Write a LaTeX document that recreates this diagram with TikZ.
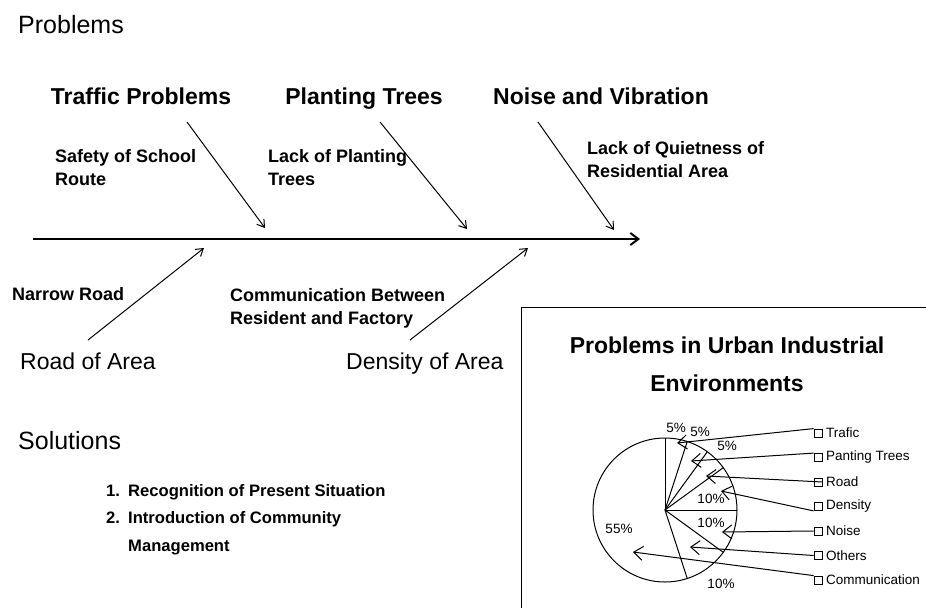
\documentclass[tikz,border=0pt]{standalone}
\usepackage{fontspec}
\setmainfont{Liberation Sans}
\usetikzlibrary{arrows.meta}

\begin{document}
\begin{tikzpicture}[x=1pt,y=-1pt,
  head/.style={font=\fontsize{25}{30}\selectfont, anchor=base west, inner sep=0pt},
  cause/.style={font=\fontsize{23}{27}\selectfont\bfseries, anchor=base, inner sep=0pt},
  area/.style={font=\fontsize{23}{27}\selectfont, anchor=base west, inner sep=0pt},
  sub/.style={font=\fontsize{18}{23}\selectfont\bfseries, align=left, anchor=west, inner sep=0pt},
  item/.style={font=\fontsize{16.6}{27.5}\selectfont\bfseries, align=left, anchor=base west, inner sep=0pt},
  bone/.style={line width=1pt, -{Straight Barb[length=7pt,width=9pt]}},
  pct/.style={font=\fontsize{13.5}{16}\selectfont, inner sep=0pt},
  legtxt/.style={font=\fontsize{13.5}{16}\selectfont, anchor=west, inner sep=0pt},
  legbox/.style={draw, line width=0.8pt, minimum size=8pt, inner sep=0pt},
  leg/.style={line width=1pt, -{Straight Barb[length=9pt,width=14pt]}}]
  \useasboundingbox (0,0) rectangle (926,608);

  % fishbone
  \node[head] (prob) at (18,33) {Problems};
  \node[cause] (traf) at (141,104) {Traffic Problems};
  \node[cause] (tree) at (364,104) {Planting Trees};
  \node[cause] (nois) at (601,104) {Noise and Vibration};
  \node[sub] (safe) at (55,168) {Safety of School\\Route};
  \node[sub] (lack) at (268,168) {Lack of Planting\\Trees};
  \node[sub] (quie) at (587,160) {Lack of Quietness of\\Residential Area};
  \node[sub] (narr) at (12,294) {Narrow Road};
  \node[sub] (comm) at (230,308) {Communication Between\\Resident and Factory};
  \node[area] (road) at (20,369) {Road of Area};
  \node[area] (dens) at (346,369) {Density of Area};

  \coordinate (tail) at (33,239);
  \coordinate (head) at (640,239);
  \draw[line width=2pt, -{Straight Barb[length=8pt,width=12pt]}] (tail) -- (head);
  \coordinate (a1) at (187,122); \coordinate (b1) at (265,228);
  \coordinate (a2) at (380,122); \coordinate (b2) at (467,229);
  \coordinate (a3) at (538,122); \coordinate (b3) at (614,230);
  \coordinate (a4) at (88,340);  \coordinate (b4) at (204,248);
  \coordinate (a5) at (410,340); \coordinate (b5) at (528,248);
  \foreach \k in {1,...,5}
    \draw[bone] (a\k) -- (b\k);

  % solutions
  \node[head] (solu) at (18,449) {Solutions};
  \node[item] (n1) at (106,496) {1.};
  \node[item] (s1) at (128,496) {Recognition of Present Situation};
  \node[item] (n2) at (106,523.5) {2.};
  \node[item] (s2) at (128,551) {Introduction of Community\\Management};

  % chart panel
  \draw[line width=1pt] (521,608) -- (521,307) -- (926,307);
  \node[cause] (ttl1) at (727,353) {Problems in Urban Industrial};
  \node[cause] (ttl2) at (727,391) {Environments};

  \coordinate (pc) at (665,510);
  \draw[line width=1pt] (pc) circle[radius=72pt];
  \foreach \ang in {90,72,54,36,0,-36,-72}
    \draw[line width=1pt] (pc) -- ++(\ang:72pt);

  \node[pct] (p1) at (676,428) {5\%};
  \node[pct] (p2) at (700,432) {5\%};
  \node[pct] (p3) at (727,446) {5\%};
  \node[pct] (p4) at (711,499) {10\%};
  \node[pct] (p5) at (711,523) {10\%};
  \node[pct] (p6) at (619,529) {55\%};
  \node[pct] (p7) at (721,584) {10\%};

  \foreach \i/\yy/\txt in {1/433/Trafic, 2/457.5/Panting Trees, 3/482/Road,
      4/506.5/Density, 5/531/Noise, 6/555.5/Others, 7/580/Communication} {
    \node[legbox] (m\i) at (818,\yy) {};
    \node[legtxt] (l\i) at (826,\yy) {\txt};
  }

  \coordinate (t1) at (677,443);
  \coordinate (t2) at (691,461);
  \coordinate (t3) at (706,476);
  \coordinate (t4) at (721,491);
  \coordinate (t5) at (722,532);
  \coordinate (t6) at (690,547);
  \coordinate (t7) at (633,552);
  \draw[leg] (m1.north west) -- (t1);
  \draw[leg] (m2.north west) -- (t2);
  \draw[leg] (m3.east) -- (t3);
  \draw[leg] (m4.south west) -- (t4);
  \draw[leg] (m5.west) -- (t5);
  \draw[leg] (m6.west) -- (t6);
  \draw[leg] (m7.north west) -- (t7);
\end{tikzpicture}
\end{document}
